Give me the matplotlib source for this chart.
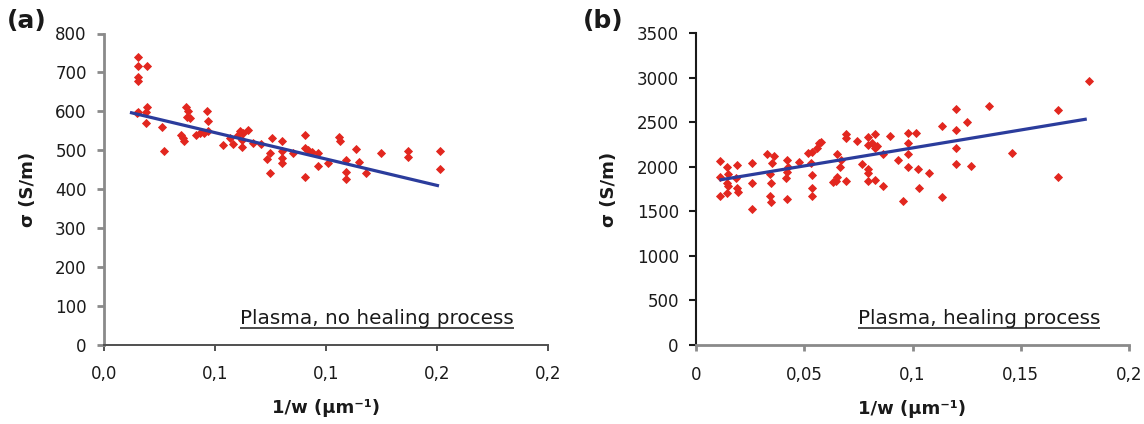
import matplotlib
matplotlib.use("Agg")
import matplotlib.pyplot as plt
import numpy as np

plt.rcParams['font.family'] = ['DejaVu Sans']

# ---------------- data ----------------
# panel (a): plasma, no healing process
a_x = [0.0155, 0.0155, 0.0195, 0.0155, 0.0152, 0.0155, 0.0148, 0.0195, 0.0190, 0.0191,
       0.0260, 0.0272, 0.0345, 0.0355, 0.0362, 0.0368, 0.0377, 0.0373, 0.0388, 0.0414,
       0.0432, 0.0463, 0.0470, 0.0470, 0.0450, 0.0537, 0.0568, 0.0583, 0.0605, 0.0613,
       0.0628, 0.0620, 0.0650, 0.0620, 0.0673, 0.0706, 0.0733, 0.0748, 0.0758, 0.0748,
       0.0803, 0.0803, 0.0800, 0.0803, 0.0850, 0.0905, 0.0905, 0.0920, 0.0905, 0.0935,
       0.0965, 0.0965, 0.1010, 0.1060, 0.1062, 0.1090, 0.1090, 0.1090, 0.1134, 0.1150,
       0.1180, 0.1248, 0.1371, 0.1371, 0.1514, 0.1514]
a_y = [739, 716, 716, 687, 678, 599, 595, 610, 599, 571,
       559, 499, 539, 531, 524, 612, 601, 586, 582, 539,
       543, 601, 575, 548, 545, 513, 530, 517, 539, 548,
       543, 526, 553, 509, 518, 515, 478, 493, 530, 440,
       524, 498, 481, 466, 493, 539, 506, 500, 432, 496,
       492, 459, 468, 533, 524, 474, 444, 425, 504, 470,
       442, 493, 498, 483, 498, 451]
a_fit_x = [0.0117, 0.1509]
a_fit_y = [597, 408]

# panel (b): plasma, healing process
b_x = [0.0111, 0.0111, 0.0111, 0.0145, 0.0149, 0.0141, 0.0149, 0.0141, 0.0188, 0.0185,
       0.0188, 0.0192, 0.0257, 0.0260, 0.0257, 0.0330, 0.0362, 0.0350, 0.0342, 0.0346,
       0.0342, 0.0345, 0.0419, 0.0427, 0.0419, 0.0416, 0.0419, 0.0477, 0.0519, 0.0534,
       0.0531, 0.0534, 0.0534, 0.0534, 0.0570, 0.0578, 0.0558, 0.0650, 0.0645, 0.0634,
       0.0650, 0.0670, 0.0665, 0.0692, 0.0692, 0.0692, 0.0742, 0.0765, 0.0796, 0.0796,
       0.0796, 0.0796, 0.0793, 0.0827, 0.0815, 0.0827, 0.0835, 0.0827, 0.0863, 0.0862,
       0.0896, 0.0931, 0.0957, 0.0980, 0.0980, 0.0980, 0.0980, 0.1014, 0.1026, 0.1030,
       0.1078, 0.1135, 0.1135, 0.1200, 0.1200, 0.1200, 0.1200, 0.1254, 0.1271, 0.1354,
       0.1459, 0.1670, 0.1670, 0.1813]
b_y = [2068, 1881, 1675, 2000, 1918, 1814, 1789, 1702, 2019, 1877,
       1758, 1720, 2038, 1814, 1526, 2139, 2121, 2038, 1918, 1814,
       1675, 1608, 2075, 2000, 1945, 1870, 1638, 2056, 2150, 2168,
       2038, 1907, 1765, 1675, 2262, 2281, 2206, 2142, 1844, 1826,
       1881, 2075, 2000, 2364, 2318, 1836, 2290, 2029, 2337, 2243,
       1970, 1925, 1836, 2364, 2262, 2206, 2230, 1851, 2146, 1780,
       2346, 2075, 1616, 2374, 2262, 2139, 2000, 2374, 1970, 1765,
       1933, 2456, 1657, 2646, 2411, 2213, 2029, 2497, 2011, 2683,
       2150, 2637, 1881, 2958]
b_fit_x = [0.0108, 0.1805]
b_fit_y = [1851, 2535]

a_xticks = [0.0, 0.05, 0.10, 0.15, 0.20]
a_xticklabels = ["0,0", "0,1", "0,1", "0,2", "0,2"]
a_yticks = [0, 100, 200, 300, 400, 500, 600, 700, 800]
b_xticks = [0.0, 0.05, 0.10, 0.15, 0.20]
b_xticklabels = ["0", "0,05", "0,1", "0,15", "0,2"]
b_yticks = [0, 500, 1000, 1500, 2000, 2500, 3000, 3500]

panel_labels = ["(a)", "(b)"]
notes = ["Plasma, no healing process", "Plasma, healing process"]
xlabel = "1/w (µm⁻¹)"
ylabel = "σ (S/m)"

# ---------------- style ----------------
RED = "#e2271f"
BLUE = "#2b3c9c"
TXT = "#1a1a1a"

W, H = 1144, 424
fig = plt.figure(figsize=(W / 100, H / 100), dpi=100)

axa = fig.add_axes([104 / W, 1 - 344.5 / H, 444 / W, 311 / H])
axb = fig.add_axes([696 / W, 1 - 345 / H, 433 / W, 312 / H])

panels = [
    (axa, a_x, a_y, a_fit_x, a_fit_y, a_xticks, a_xticklabels, a_yticks, 800,
     ("#8a8a8a", 2.0), ("#505050", 1.4), -0.151, (0.307, 0.066)),
    (axb, b_x, b_y, b_fit_x, b_fit_y, b_xticks, b_xticklabels, b_yticks, 3500,
     ("#1a1a1a", 1.5), ("#8a8a8a", 2.0), -0.180, (0.373, 0.067)),
]

for i, (ax, x, y, fx, fy, xt, xtl, yt, ymax, lsp, bsp, ylx, notepos) in enumerate(panels):
    ax.plot(x, y, linestyle="none", marker="D", markersize=4.3,
            markerfacecolor=RED, markeredgecolor=RED, markeredgewidth=0.6, zorder=3)
    ax.plot(fx, fy, color=BLUE, linewidth=2.3, solid_capstyle="butt", zorder=4)

    ax.set_xlim(0, 0.2)
    ax.set_ylim(0, ymax)
    ax.set_xticks(xt)
    ax.set_xticklabels(xtl)
    ax.set_yticks(yt)

    for s in ("top", "right"):
        ax.spines[s].set_visible(False)
    ax.spines["left"].set_color(lsp[0])
    ax.spines["left"].set_linewidth(lsp[1])
    ax.spines["bottom"].set_color(bsp[0])
    ax.spines["bottom"].set_linewidth(bsp[1])

    ax.tick_params(axis="y", direction="out", length=4.8, width=lsp[1], color=lsp[0],
                   pad=7.6, labelsize=12, labelcolor=TXT)
    ax.tick_params(axis="x", direction="out", length=4.5, width=bsp[1], color=bsp[0],
                   pad=10.4, labelsize=12, labelcolor=TXT)

    ax.set_xlabel(xlabel, fontsize=13, fontweight="bold", color=TXT)
    ax.xaxis.set_label_coords(0.5, -0.176)
    ax.set_ylabel(ylabel, fontsize=13, fontweight="bold", color=TXT)
    ax.yaxis.set_label_coords(ylx, 0.5)

    t = ax.text(notepos[0], notepos[1], notes[i], transform=ax.transAxes,
                ha="left", va="baseline", fontsize=14.4, color=TXT)
    ax._note = t

fig.text(7 / W, 1 - 9 / H, panel_labels[0], ha="left", va="top",
         fontsize=18, fontweight="bold", color=TXT)
fig.text(583 / W, 1 - 9 / H, panel_labels[1], ha="left", va="top",
         fontsize=18, fontweight="bold", color=TXT)

# underline the notes
fig.canvas.draw()
renderer = fig.canvas.get_renderer()
for ax in (axa, axb):
    t = ax._note
    bb = t.get_window_extent(renderer=renderer)
    inv = ax.transAxes.inverted()
    (x0, _), (x1, _) = inv.transform([[bb.x0, bb.y0], [bb.x1, bb.y0]])
    ax_h_px = ax.get_window_extent(renderer=renderer).height
    yline = t.get_position()[1] - 4.0 / ax_h_px
    ax.plot([x0, x1], [yline, yline], transform=ax.transAxes, color=TXT,
            linewidth=1.1, clip_on=False, solid_capstyle="butt")

fig.savefig("out.png", dpi=100)
